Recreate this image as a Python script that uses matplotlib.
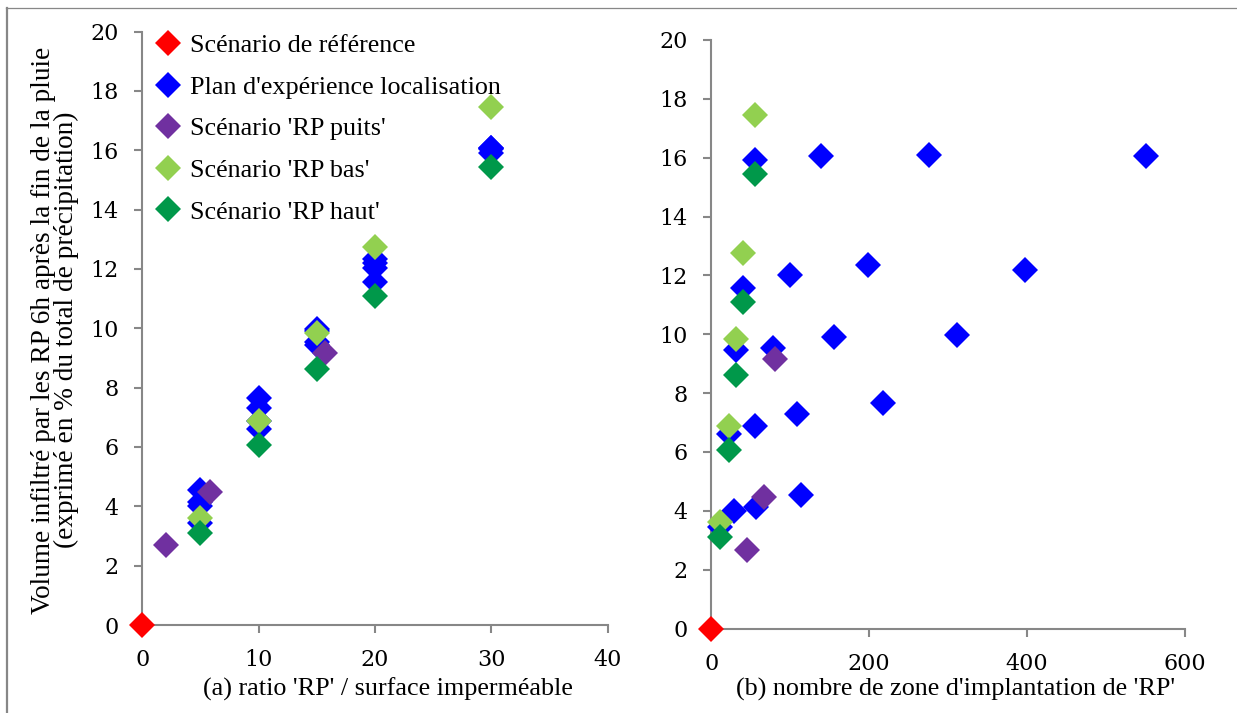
import matplotlib
matplotlib.use("Agg")
import matplotlib.pyplot as plt
from matplotlib.lines import Line2D

# ---------------- data ----------------
labels = ["Scénario de référence", "Plan d'expérience localisation",
          "Scénario 'RP puits'", "Scénario 'RP bas'", "Scénario 'RP haut'"]
colors = ["#FF0000", "#0000FF", "#7030A0", "#92D050", "#00984A"]

# reference scenario
ref_ratio = [0]
ref_zones = [0]
ref_vol = [0]

# plan d'expérience localisation
plan_ratio = [5, 5, 5, 5, 10, 10, 10, 10, 15, 15, 15, 15, 20, 20, 20, 20, 30, 30, 30, 30]
plan_zones = [11.4, 28.3, 56.1, 113.5, 22.4, 54.8, 108.4, 216.9,
              31.2, 78.1, 155.7, 310.9, 40.1, 99.1, 199.1, 397.4,
              55.3, 138.4, 275.5, 550.2]
plan_vol = [3.45, 4.01, 4.13, 4.55, 6.60, 6.89, 7.30, 7.65,
            9.45, 9.53, 9.92, 9.96, 11.57, 12.03, 12.35, 12.19,
            15.92, 16.05, 16.08, 16.07]

# RP puits
puits_ratio = [2, 5.8, 15.7]
puits_zones = [45.6, 66.7, 81.0]
puits_vol = [2.68, 4.47, 9.17]

# RP bas
bas_ratio = [5, 10, 15, 20, 30]
bas_zones = [11.4, 22.4, 31.2, 40.1, 55.3]
bas_vol = [3.62, 6.87, 9.85, 12.75, 17.45]

# RP haut
haut_ratio = [5, 10, 15, 20, 30]
haut_zones = [11.4, 22.4, 31.2, 40.1, 55.3]
haut_vol = [3.11, 6.07, 8.62, 11.10, 15.44]

xticks_a = [0, 10, 20, 30, 40]
xticks_b = [0, 200, 400, 600]
yticks = [0, 2, 4, 6, 8, 10, 12, 14, 16, 18, 20]

xlabel_a = "(a) ratio 'RP' / surface imperméable"
xlabel_b = "(b) nombre de zone d'implantation de 'RP'"
ylabel = ("Volume infiltré par les RP 6h après la fin de la pluie\n"
          "(exprimé en % du total de précipitation)")

# ---------------- figure ----------------
W, H = 1237, 713
fig = plt.figure(figsize=(W / 100, H / 100), dpi=100)

TXT_FONT = "Liberation Serif"
TICK_FONT = "DejaVu Serif"
TXT_SIZE = 18.8
YLAB_SIZE = 19.6
TICK_SIZE = 16
GRAY = "#878787"
MS = 13.3


def px_rect(x0, x1, ytop, ybot):
    return [x0 / W, 1 - ybot / H, (x1 - x0) / W, (ybot - ytop) / H]


ax_a = fig.add_axes(px_rect(142.3, 607.6, 31.5, 625.0))
ax_b = fig.add_axes(px_rect(711.3, 1185.0, 40.0, 628.5))

series_a = [(ref_ratio, ref_vol), (plan_ratio, plan_vol), (puits_ratio, puits_vol),
            (bas_ratio, bas_vol), (haut_ratio, haut_vol)]
series_b = [(ref_zones, ref_vol), (plan_zones, plan_vol), (puits_zones, puits_vol),
            (bas_zones, bas_vol), (haut_zones, haut_vol)]

for ax, series, xt in [(ax_a, series_a, xticks_a), (ax_b, series_b, xticks_b)]:
    for (xs, ys), c, lab in zip(series, colors, labels):
        ax.plot(xs, ys, linestyle="none", marker="D", markersize=MS,
                markerfacecolor=c, markeredgewidth=0, color=c, label=lab,
                clip_on=False, zorder=3)
    ax.set_xlim(xt[0], xt[-1])
    ax.set_ylim(0, 20)
    ax.set_xticks(xt)
    ax.set_yticks(yticks)
    for s in ["top", "right"]:
        ax.spines[s].set_visible(False)
    for s in ["left", "bottom"]:
        ax.spines[s].set_color(GRAY)
        ax.spines[s].set_linewidth(1.5)
    ax.tick_params(axis="both", direction="out", length=5.8, width=1.5,
                   color=GRAY, labelsize=TICK_SIZE)
    ax.tick_params(axis="y", pad=11)
    ax.tick_params(axis="x", pad=11.5)
    for t in ax.get_xticklabels() + ax.get_yticklabels():
        t.set_fontfamily(TICK_FONT)

leg = ax_a.legend(loc="upper left", bbox_to_anchor=(155 / W, 1 - 34 / H),
                  bbox_transform=fig.transFigure, frameon=False,
                  borderpad=0, borderaxespad=0, handlelength=1.0,
                  handletextpad=0.33, labelspacing=0.70,
                  prop={"family": TXT_FONT, "size": TXT_SIZE})

fig.text(388 / W, 1 - 689 / H, xlabel_a, ha="center", va="center",
         family=TXT_FONT, size=TXT_SIZE)
fig.text(956 / W, 1 - 689 / H, xlabel_b, ha="center", va="center",
         family=TXT_FONT, size=TXT_SIZE)
fig.text(55 / W, 1 - 330 / H, ylabel, ha="center", va="center", rotation=90,
         multialignment="center", linespacing=0.92,
         family=TXT_FONT, size=YLAB_SIZE)

# outer frame (left and top edges visible)
fig.add_artist(Line2D([6.5 / W, 6.5 / W], [0, 1 - 7.5 / H], transform=fig.transFigure,
                      color=GRAY, linewidth=1.6))
fig.add_artist(Line2D([5.7 / W, 1], [1 - 8 / H, 1 - 8 / H], transform=fig.transFigure,
                      color=GRAY, linewidth=0.9))

fig.savefig("out.png", dpi=100)
